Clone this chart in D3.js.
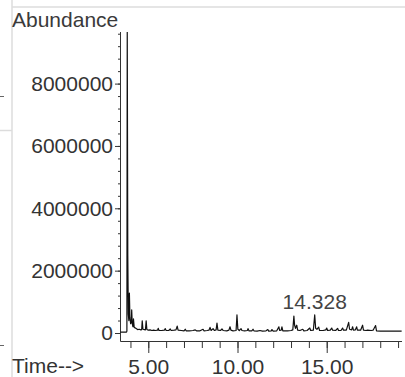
<!DOCTYPE html>
<html>
<head>
<meta charset="utf-8">
<script src="https://cdn.jsdelivr.net/npm/d3@7"></script>
<style>
  html, body { margin: 0; padding: 0; background: #fff; }
  svg { display: block; }
  text { font-family: "Liberation Sans", Arial, Helvetica, sans-serif; }
</style>
</head>
<body>
<svg id="chart" width="405" height="377"></svg>
<script>
// Total ion chromatogram: retention time (min) vs. abundance
const times = [
  3.44, 3.78, 3.80, 3.82, 3.85, 3.88, 3.91, 3.94, 3.97, 4.01, 4.05, 4.07, 4.10, 4.14, 4.17, 4.21,
  4.30, 4.40, 4.50, 4.58, 4.63, 4.66, 4.70, 4.78, 4.84, 4.88, 4.92, 5.00, 5.10, 5.20, 5.30, 5.40,
  5.52, 5.56, 5.60, 5.75, 5.90, 5.95, 6.00, 6.15, 6.23, 6.28, 6.45, 6.55, 6.62, 6.67, 6.85, 7.00,
  7.07, 7.12, 7.30, 7.50, 7.63, 7.70, 7.90, 8.07, 8.12, 8.30, 8.40, 8.46, 8.52, 8.63, 8.70, 8.80,
  8.85, 8.90, 9.05, 9.13, 9.20, 9.40, 9.52, 9.58, 9.63, 9.75, 9.92, 9.97, 10.02, 10.10, 10.20, 10.25,
  10.40, 10.55, 10.59, 10.64, 10.80, 10.87, 10.92, 11.10, 11.26, 11.40, 11.60, 11.70, 11.75, 11.90, 11.93, 12.00,
  12.20, 12.32, 12.36, 12.45, 12.49, 12.54, 12.80, 13.00, 13.10, 13.16, 13.20, 13.25, 13.32, 13.37, 13.50, 13.66,
  13.72, 13.90, 14.05, 14.10, 14.25, 14.328, 14.38, 14.45, 14.55, 14.60, 14.80, 14.95, 15.00, 15.05, 15.20, 15.28,
  15.33, 15.50, 15.61, 15.66, 15.80, 15.89, 15.94, 16.10, 16.23, 16.28, 16.40, 16.45, 16.50, 16.60, 16.68, 16.72,
  16.90, 17.01, 17.06, 17.20, 17.29, 17.50, 17.60, 17.74, 17.79, 18.00, 18.50, 19.20
];
const abundance = [
  30000, 30000, 60000, 9650000, 2500000, 600000, 400000, 1280000, 500000, 300000, 350000, 740000, 300000, 200000, 450000, 180000,
  150000, 110000, 120000, 100000, 110000, 390000, 120000, 110000, 100000, 390000, 110000, 90000, 100000, 80000, 90000, 80000,
  90000, 150000, 80000, 80000, 90000, 140000, 80000, 80000, 130000, 80000, 90000, 100000, 220000, 90000, 80000, 70000,
  120000, 70000, 70000, 80000, 100000, 70000, 70000, 120000, 70000, 80000, 90000, 180000, 80000, 140000, 80000, 100000,
  320000, 90000, 80000, 130000, 80000, 70000, 90000, 200000, 90000, 70000, 80000, 580000, 120000, 80000, 140000, 80000,
  70000, 80000, 140000, 70000, 70000, 120000, 70000, 60000, 80000, 60000, 70000, 110000, 60000, 70000, 110000, 60000,
  70000, 200000, 80000, 90000, 200000, 70000, 70000, 80000, 100000, 540000, 250000, 150000, 250000, 90000, 80000, 120000,
  70000, 80000, 160000, 80000, 90000, 580000, 150000, 120000, 190000, 80000, 80000, 100000, 160000, 80000, 90000, 160000,
  90000, 80000, 150000, 80000, 80000, 160000, 90000, 90000, 340000, 120000, 100000, 200000, 90000, 100000, 200000, 90000,
  90000, 250000, 90000, 80000, 90000, 80000, 90000, 240000, 70000, 60000, 60000, 60000
];

// Axis ticks
const yMajorTicks = [0, 2000000, 4000000, 6000000, 8000000];
const yMinorTicks = d3.range(0, 9600001, 400000);
const xMajorTicks = [5, 10, 15];
const xMajorLabels = ["5.00", "10.00", "15.00"];
const xMinorTicks = d3.range(4, 20, 1);

// Annotated peak
const peakLabel = "14.328";
const peakTime = 14.328;

const svg = d3.select("#chart");
const ink = "#333";

// Page frame lines around the plot
const frame = svg.append("g").attr("stroke", "#dcdcdc").attr("stroke-width", 1.5);
frame.append("line").attr("x1", 12).attr("x2", 405).attr("y1", 7).attr("y2", 7);
frame.append("line").attr("x1", 12).attr("x2", 12).attr("y1", 0).attr("y2", 377);
frame.append("line").attr("x1", 0).attr("x2", 12).attr("y1", 130.5).attr("y2", 130.5);
const marks = svg.append("g").attr("stroke", "#666").attr("stroke-width", 1);
marks.append("line").attr("x1", 0).attr("x2", 4).attr("y1", 96.5).attr("y2", 96.5);
marks.append("line").attr("x1", 0).attr("x2", 4).attr("y1", 345.5).attr("y2", 345.5);

const plot = { left: 120, right: 402, top: 32, bottom: 341 };

const x = d3.scaleLinear().domain([3.414, 19.22]).range([plot.left, plot.right]);
const y = d3.scaleLinear().domain([-256600, 9655000]).range([plot.bottom, plot.top]);

// Clip region for the trace
svg.append("clipPath").attr("id", "plot-clip")
  .append("rect")
  .attr("x", plot.left).attr("y", plot.top)
  .attr("width", plot.right - plot.left).attr("height", plot.bottom - plot.top);

// Y axis: minor ticks, then major ticks with labels
const yMinor = svg.append("g").attr("transform", `translate(${plot.left},0)`)
  .call(d3.axisLeft(y).tickValues(yMinorTicks).tickSize(2).tickSizeOuter(0).tickFormat(""));
yMinor.select(".domain").remove();
yMinor.selectAll("line").attr("stroke", ink);

const yMajor = svg.append("g").attr("transform", `translate(${plot.left},0)`)
  .call(d3.axisLeft(y).tickValues(yMajorTicks).tickSize(5).tickPadding(2).tickSizeOuter(0).tickFormat(d3.format("d")));
yMajor.select(".domain").remove();
yMajor.selectAll("line").attr("stroke", ink);
yMajor.selectAll("text")
  .attr("font-size", 21).attr("fill", ink)
  .attr("font-family", "'Liberation Sans', Arial, sans-serif");

// X axis: minor ticks, then major ticks with labels
const xMinor = svg.append("g").attr("transform", `translate(0,${plot.bottom})`)
  .call(d3.axisBottom(x).tickValues(xMinorTicks).tickSize(7).tickSizeOuter(0).tickFormat(""));
xMinor.select(".domain").remove();
xMinor.selectAll("line").attr("stroke", ink);

const xMajor = svg.append("g").attr("transform", `translate(0,${plot.bottom})`)
  .call(d3.axisBottom(x).tickValues(xMajorTicks).tickSize(12).tickPadding(6).tickSizeOuter(0)
    .tickFormat((d, i) => xMajorLabels[i]));
xMajor.select(".domain").remove();
xMajor.selectAll("line").attr("stroke", ink);
xMajor.selectAll("text")
  .attr("font-size", 21).attr("fill", ink)
  .attr("font-family", "'Liberation Sans', Arial, sans-serif");

// Axis lines meeting at the lower-left corner
svg.append("path")
  .attr("d", `M${plot.left + 0.5},${plot.top}V${plot.bottom + 0.5}H${plot.right}`)
  .attr("fill", "none").attr("stroke", ink).attr("stroke-width", 1);

// Axis titles
svg.append("text").attr("x", 12).attr("y", 27)
  .attr("font-size", 21).attr("fill", "#3a3a3a").text("Abundance");
svg.append("text").attr("x", 12).attr("y", 373)
  .attr("font-size", 21).attr("fill", ink).text("Time-->");

// Chromatogram trace
const series = times.map((t, i) => ({ t, v: abundance[i] }));
svg.append("path")
  .datum(series)
  .attr("clip-path", "url(#plot-clip)")
  .attr("fill", "none")
  .attr("stroke", "#111")
  .attr("stroke-width", 1.2)
  .attr("stroke-linejoin", "round")
  .attr("d", d3.line().x(d => x(d.t)).y(d => y(d.v)));

// Peak annotation
const peakIdx = times.indexOf(peakTime);
svg.append("text")
  .attr("x", x(peakTime))
  .attr("y", y(abundance[peakIdx]) - 6)
  .attr("text-anchor", "middle")
  .attr("font-size", 21).attr("fill", "#444")
  .text(peakLabel);
</script>
</body>
</html>
